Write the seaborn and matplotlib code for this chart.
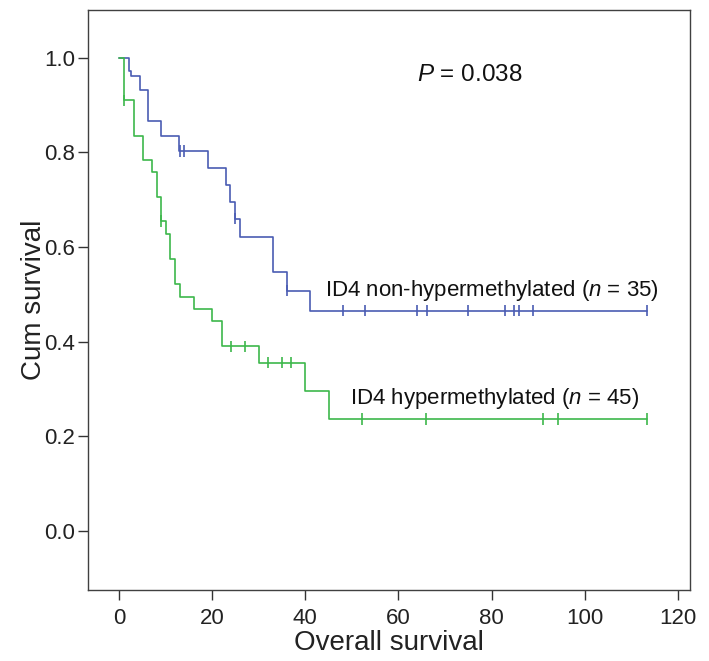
import matplotlib
matplotlib.use("Agg")
import matplotlib.pyplot as plt
import seaborn as sns
import numpy as np
import pandas as pd

# Step data (time in months, cumulative survival)
blue_time = [0, 2.2, 2.6, 4.5, 6.1, 9.0, 12.9, 19.0, 23.0, 23.9, 24.9, 26.0, 33.0, 36.0, 41.0, 113.3]
blue_surv = [1.0, 0.971, 0.962, 0.932, 0.867, 0.835, 0.803, 0.768, 0.731, 0.696, 0.660, 0.622, 0.547, 0.508, 0.466, 0.466]
blue_censor = [13.1, 13.9, 25.0, 36.0, 48.0, 52.9, 63.9, 66.1, 74.9, 82.9, 84.9, 85.8, 88.8, 113.3]

green_time = [0, 1.0, 3.1, 5.1, 7.0, 8.1, 9.0, 10.0, 11.0, 12.0, 13.0, 16.0, 20.0, 22.0, 30.0, 40.0, 45.0, 113.3]
green_surv = [1.0, 0.910, 0.834, 0.783, 0.758, 0.705, 0.655, 0.628, 0.575, 0.523, 0.495, 0.469, 0.443, 0.390, 0.356, 0.296, 0.237, 0.237]
green_censor = [1.0, 9.0, 24.0, 27.0, 32.0, 35.0, 36.9, 52.1, 66.0, 91.0, 94.3, 113.3]

x_ticks = [0, 20, 40, 60, 80, 100, 120]
y_ticks = [0.0, 0.2, 0.4, 0.6, 0.8, 1.0]

blue_label = "ID4 non-hypermethylated ($\\it{n}$ = 35)"
green_label = "ID4 hypermethylated ($\\it{n}$ = 45)"
p_text = "$\\it{P}$ = 0.038"

BLUE = "#4a5cb3"
GREEN = "#3db84b"

sns.set_style("ticks")
plt.rcParams["font.family"] = ["Liberation Sans", "DejaVu Sans"]
plt.rcParams["mathtext.fontset"] = "custom"
plt.rcParams["mathtext.it"] = "Liberation Sans:italic"
plt.rcParams["mathtext.rm"] = "Liberation Sans"


def censor_levels(times, surv, cens):
    # survival level at each censoring time
    idx = np.searchsorted(times, cens, side="right") - 1
    return np.asarray(surv)[idx]


fig = plt.figure(figsize=(7.09, 6.61), dpi=100)
ax = fig.add_axes([0.124, 0.107, 0.849, 0.878])

steps = pd.concat([
    pd.DataFrame({"time": blue_time, "surv": blue_surv, "group": "non"}),
    pd.DataFrame({"time": green_time, "surv": green_surv, "group": "hyper"}),
])
marks = pd.concat([
    pd.DataFrame({"time": blue_censor, "surv": censor_levels(blue_time, blue_surv, blue_censor), "group": "non"}),
    pd.DataFrame({"time": green_censor, "surv": censor_levels(green_time, green_surv, green_censor), "group": "hyper"}),
])
pal = {"non": BLUE, "hyper": GREEN}

sns.lineplot(data=steps, x="time", y="surv", hue="group", palette=pal,
             estimator=None, sort=False, drawstyle="steps-post",
             linewidth=1.2, legend=False, ax=ax)
sns.scatterplot(data=marks, x="time", y="surv", hue="group", palette=pal,
                marker="|", s=70, linewidth=1.2, legend=False, ax=ax, zorder=3)

ax.set_xlim(-6.7, 122.6)
ax.set_ylim(-0.125, 1.101)
ax.set_xticks(x_ticks)
ax.set_yticks(y_ticks)
ax.set_xticklabels([str(v) for v in x_ticks])
ax.set_yticklabels([f"{v:.1f}" for v in y_ticks])

for s in ax.spines.values():
    s.set_color("#404040")
    s.set_linewidth(1.0)
ax.tick_params(direction="out", length=7, width=1.0, color="#333333",
               labelsize=16, labelcolor="#222222")
ax.tick_params(axis="x", pad=6)
ax.tick_params(axis="y", pad=2)

ax.set_xlabel("Overall survival", fontsize=20, color="#222222")
ax.set_ylabel("Cum survival", fontsize=20, color="#222222")
ax.xaxis.set_label_coords(0.5, -0.069)
ax.yaxis.set_label_coords(-0.068, 0.5)

ax.text(64, 0.964, p_text, fontsize=17.5, va="center", ha="left", color="#111111")
ax.text(44.2, 0.508, blue_label, fontsize=16, va="center", ha="left", color="#111111")
ax.text(49.6, 0.281, green_label, fontsize=16, va="center", ha="left", color="#111111")

fig.savefig("out.png", dpi=100)
